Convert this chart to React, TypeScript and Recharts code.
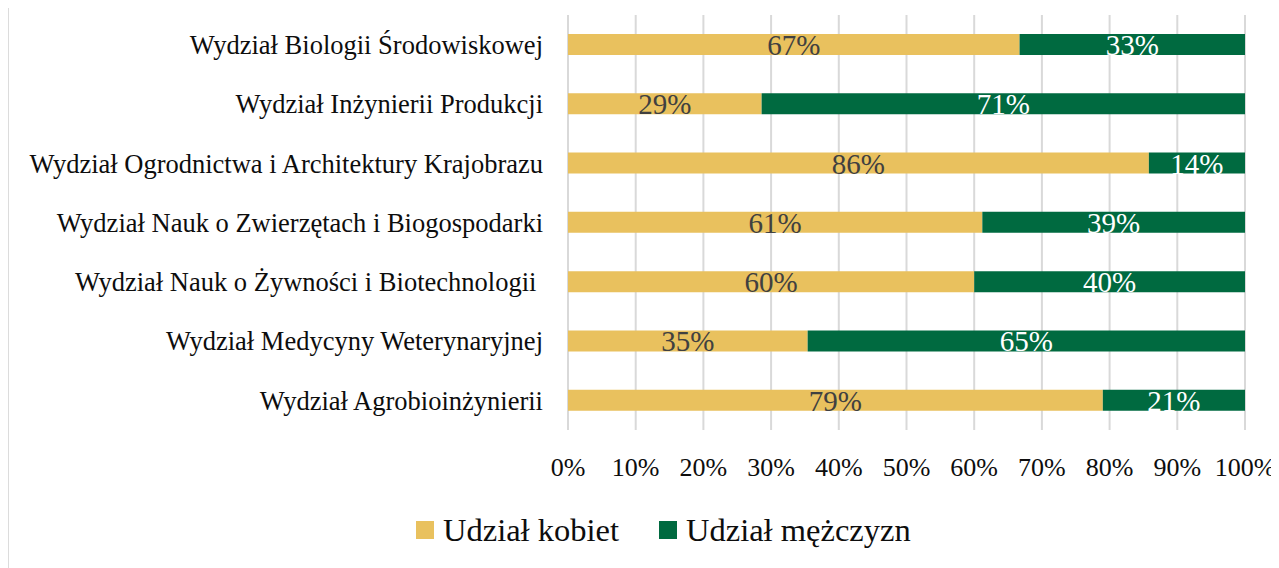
import React from 'react';
import { BarChart, Bar, XAxis, YAxis, CartesianGrid, LabelList, Legend } from 'recharts';

const categories = [
  'Wydział Biologii Środowiskowej',
  'Wydział Inżynierii Produkcji',
  'Wydział Ogrodnictwa i Architektury Krajobrazu',
  'Wydział Nauk o Zwierzętach i Biogospodarki',
  'Wydział Nauk o Żywności i Biotechnologii ',
  'Wydział Medycyny Weterynaryjnej',
  'Wydział Agrobioinżynierii',
];
const womenShare = [66.7, 28.6, 85.8, 61.2, 60.0, 35.4, 79.0];
const menShare = [33.3, 71.4, 14.2, 38.8, 40.0, 64.6, 21.0];
const xTicks = [0, 10, 20, 30, 40, 50, 60, 70, 80, 90, 100];
const seriesNames = ['Udział kobiet', 'Udział mężczyzn'];
const seriesColors = ['#E9C15E', '#006A40'];
const labelColors = ['#404040', '#FFFFFF'];

const data = categories.map((name, i) => ({ name, women: womenShare[i], men: menShare[i] }));

const FONT = "'Liberation Serif', 'Times New Roman', serif";

const CategoryTick = (props: any) => {
  const { x, y, payload } = props;
  return (
    <text x={x} y={y} dy="0.355em" textAnchor="end" fontSize={26.5} fontFamily={FONT} fill="#0d0d0d" style={{ whiteSpace: 'pre' }}>
      {payload.value}
    </text>
  );
};

const makeLabel = (color: string) => (props: any) => {
  const { x, y, width, height, value } = props;
  const cx = Number(x) + Number(width) / 2;
  const cy = Number(y) + Number(height) / 2;
  return (
    <text x={cx} y={cy + 10.5} textAnchor="middle" fontSize={29} fontFamily={FONT} fill={color}>
      {Math.round(Number(value))}%
    </text>
  );
};

const LegendContent = () => (
  <div style={{ position: 'relative', height: 88, width: 1238 }}>
    <div style={{ position: 'absolute', left: 409, top: 30, height: 40, display: 'flex', alignItems: 'center', fontFamily: FONT, fontSize: 32.5, color: '#0d0d0d', whiteSpace: 'nowrap' }}>
      {seriesNames.map((n, i) => (
        <div key={n} style={{ display: 'flex', alignItems: 'center', marginRight: i === 0 ? 40 : 0 }}>
          <div style={{ width: 18, height: 18, background: seriesColors[i], marginRight: 9 }} />
          <span style={{ fontFamily: FONT }}>{n}</span>
        </div>
      ))}
    </div>
  </div>
);

export default function App() {
  return (
    <div style={{ position: 'relative', marginTop: -8, marginLeft: -1, width: 1272, height: 568 }}>
      <div style={{ position: 'absolute', left: 0, top: 0, width: 2, height: 568, background: '#dcdcdc' }} />
      <BarChart
        width={1272}
        height={568}
        data={data}
        layout="vertical"
        margin={{ top: 15, right: 34, bottom: 0, left: 0 }}
        barCategoryGap={0}
      >
        <CartesianGrid horizontal={false} stroke="#d9d9d9" strokeWidth={2} />
        <XAxis
          type="number"
          domain={[0, 100]}
          ticks={xTicks}
          tickFormatter={(v: number) => `${v}%`}
          height={50}
          tickLine={false}
          axisLine={false}
          tickSize={0}
          tickMargin={28}
          interval={0}
          tick={{ fontSize: 26, fill: '#0d0d0d', fontFamily: FONT }}
        />
        <YAxis
          type="category"
          dataKey="name"
          width={561}
          tickLine={false}
          axisLine={false}
          tickSize={0}
          tickMargin={25}
          interval={0}
          tick={<CategoryTick />}
        />
        <Legend verticalAlign="bottom" content={<LegendContent />} wrapperStyle={{ left: 0, width: 1238 }} />
        <Bar dataKey="women" name={seriesNames[0]} stackId="s" fill={seriesColors[0]} barSize={21} isAnimationActive={false}>
          <LabelList dataKey="women" content={makeLabel(labelColors[0])} />
        </Bar>
        <Bar dataKey="men" name={seriesNames[1]} stackId="s" fill={seriesColors[1]} barSize={21} isAnimationActive={false}>
          <LabelList dataKey="men" content={makeLabel(labelColors[1])} />
        </Bar>
      </BarChart>
    </div>
  );
}
